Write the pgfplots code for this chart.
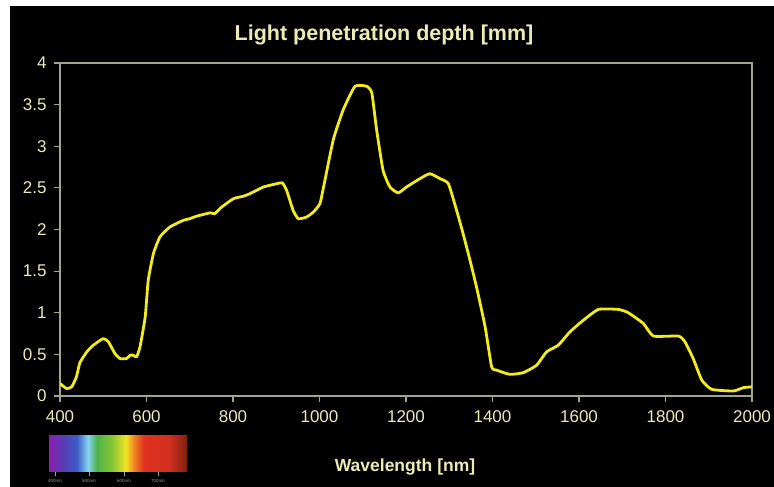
\documentclass[border=0pt]{standalone}
\usepackage{pgfplots}
\pgfplotsset{compat=1.18}
\usepackage{fontspec}
\setmainfont{Liberation Sans}

\definecolor{axisgray}{HTML}{A3A392}
\definecolor{labelcol}{HTML}{ECEBB6}
\definecolor{curvecol}{HTML}{F2EC1C}

% visible spectrum strip (tikz maps 25bp..75bp onto the path)
\definecolor{sa}{HTML}{8A1FB2}
\definecolor{sb}{HTML}{5A3CB4}
\definecolor{sc}{HTML}{3C5CC8}
\definecolor{sd}{HTML}{86D4EE}
\definecolor{se}{HTML}{4EB24A}
\definecolor{sf}{HTML}{8CC832}
\definecolor{sg}{HTML}{F2E224}
\definecolor{sh}{HTML}{F08424}
\definecolor{si}{HTML}{E03220}
\definecolor{sj}{HTML}{D23020}
\definecolor{sk}{HTML}{7E2010}
\pgfdeclarehorizontalshading{spectrum}{100bp}{
  color(0bp)=(sa); color(25bp)=(sa); color(30.07bp)=(sb); color(35.14bp)=(sc);
  color(39.13bp)=(sd); color(42.39bp)=(se); color(48.19bp)=(sf);
  color(52.9bp)=(sg); color(55.8bp)=(sh); color(59.42bp)=(si);
  color(68.48bp)=(sj); color(75bp)=(sk); color(100bp)=(sk)}

\begin{document}
\begin{tikzpicture}
\fill[white] (0,0) rectangle (774pt,487pt);
\fill[black] (10pt,0) rectangle (774pt,481pt);
\useasboundingbox (0,0) rectangle (774pt,487pt);

\begin{axis}[
    at={(60pt,91pt)}, anchor=south west,
    scale only axis,
    width=692pt, height=333pt,
    xmin=400, xmax=2000,
    ymin=0, ymax=4,
    xtick={400,600,...,2000},
    ytick={0,0.5,...,4},
    xtick pos=bottom, ytick pos=left,
    tick align=outside,
    major tick length=6pt,
    axis line style={draw=axisgray, line width=1.6pt},
    tick style={draw=axisgray, line width=1.2pt},
    /pgf/number format/assume math mode=true,
    /pgf/number format/1000 sep={},
    ticklabel style={font=\fontsize{17}{17}\selectfont, text=labelcol},
    xticklabel style={yshift=-5pt},
    yticklabel style={xshift=-4pt},
]

\addplot[curvecol, line width=2.8pt, line join=round, line cap=round,
         smooth, tension=0.3]
coordinates {
(400,0.15) (415,0.09) (427,0.11) (438,0.23) (446,0.40) (462,0.53)
(477,0.61) (500,0.69) (512,0.65) (527,0.51) (539,0.45) (554,0.45)
(562,0.49) (569,0.49) (577,0.47) (585,0.59) (597,0.95) (604,1.39)
(616,1.71) (631,1.91) (654,2.03) (685,2.11) (700,2.13) (716,2.16)
(747,2.20) (758,2.19) (774,2.27) (801,2.37) (824,2.40) (839,2.43)
(870,2.51) (901,2.55) (914,2.56) (924,2.47) (939,2.23) (951,2.13)
(970,2.15) (986,2.21) (1001,2.31) (1009,2.50) (1032,3.08) (1055,3.44)
(1082,3.72) (1109,3.72) (1121,3.64) (1132,3.20) (1147,2.71) (1163,2.51)
(1182,2.44) (1201,2.51) (1232,2.61) (1255,2.67) (1279,2.61) (1298,2.55)
(1317,2.23) (1332,1.95) (1348,1.63) (1363,1.31) (1383,0.83) (1398,0.35)
(1410,0.31) (1440,0.26) (1471,0.28) (1502,0.37) (1525,0.53) (1552,0.61)
(1579,0.77) (1610,0.91) (1645,1.04) (1691,1.04) (1714,1.00) (1749,0.87)
(1772,0.72) (1830,0.72) (1845,0.65) (1864,0.45) (1884,0.19) (1907,0.08)
(1957,0.06) (1980,0.10) (2000,0.11)
};

\end{axis}

% title and x label
\node[text=labelcol, font=\bfseries\fontsize{21.5}{22}\selectfont]
  at (384pt,452pt) {Light penetration depth [mm]};
\node[text=labelcol, font=\bfseries\fontsize{17.5}{18}\selectfont]
  at (405pt,20pt) {Wavelength [nm]};

% spectrum strip with its small scale
\shade[shading=spectrum] (49pt,15pt) rectangle (187pt,51pt);
\foreach \xx/\lab in {55/400nm, 89/500nm, 124/600nm, 158/700nm} {
  \draw[gray!70, line width=0.5pt] (\xx pt,15pt) -- (\xx pt,11pt);
  \node[text=gray!80, font=\fontsize{4.5}{5}\selectfont, inner sep=0pt]
    at (\xx pt,6pt) {\lab};
}
\end{tikzpicture}
\end{document}
